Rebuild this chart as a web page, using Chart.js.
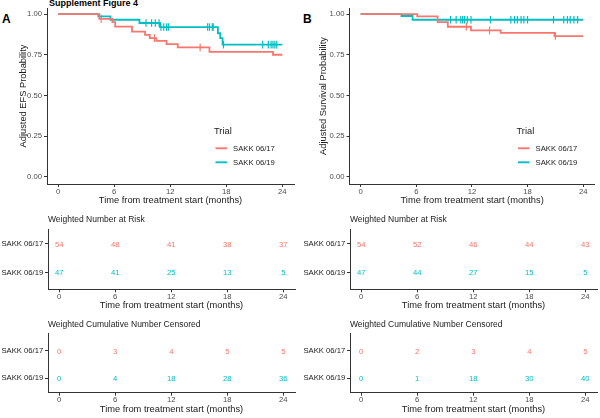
<!DOCTYPE html>
<html><head><meta charset="utf-8">
<script src="https://cdn.jsdelivr.net/npm/chart.js@4.4.1/dist/chart.umd.min.js"></script>
<style>
body{margin:0;background:#fff;width:600px;height:418px;overflow:hidden;position:relative;font-family:"Liberation Sans",Arial,sans-serif}
canvas{position:absolute}
.lab{position:absolute;font-weight:bold;color:#000;white-space:nowrap;line-height:1}
</style></head><body>
<div class="lab" style="left:2px;top:13px;font-size:12px">A</div>
<div class="lab" style="left:303px;top:13px;font-size:12px">B</div>
<div class="lab" style="left:49px;top:-1px;font-size:9px">Supplement Figure 4</div>
<canvas id="mainA" width="300" height="208" style="left:0;top:0"></canvas>
<canvas id="mainB" width="300" height="208" style="left:300px;top:0"></canvas>
<canvas id="riskA" width="300" height="103" style="left:0;top:210px"></canvas>
<canvas id="riskB" width="300" height="103" style="left:300px;top:210px"></canvas>
<canvas id="censA" width="300" height="103" style="left:0;top:314px"></canvas>
<canvas id="censB" width="300" height="103" style="left:300px;top:314px"></canvas>
<script>
// ---------- data ----------
const months = [0, 6, 12, 18, 24];
const trials = ["SAKK 06/17", "SAKK 06/19"];
const probTicks = [0, 0.25, 0.5, 0.75, 1];

// Panel A: adjusted EFS
const efs17Time = [0, 4.4, 5.8, 6.1, 7.9, 9.3, 9.8, 10.5, 11.6, 12.8, 16.2, 23.0, 24];
const efs17Surv = [1, 0.970, 0.950, 0.923, 0.892, 0.872, 0.852, 0.835, 0.815, 0.795, 0.768, 0.750, 0.750];
const efs17Cens = [4.6, 10.3, 15.2];
const efs19Time = [0, 4.3, 5.6, 8.7, 10.9, 17.1, 17.35, 17.6, 24];
const efs19Surv = [1, 0.985, 0.965, 0.945, 0.920, 0.882, 0.852, 0.812, 0.812];
const efs19Cens = [9.4, 10.0, 10.4, 10.8, 11.0, 11.3, 11.6, 11.8, 16.0, 16.2, 16.5, 16.6, 17.7, 21.9, 22.5, 22.8, 23.0, 23.2, 23.4];

// Panel B: adjusted survival
const os17Time = [0, 6.1, 8.3, 9.4, 11.9, 15.1, 20.9, 24];
const os17Surv = [1, 0.986, 0.950, 0.922, 0.900, 0.884, 0.865, 0.865];
const os17Cens = [11.4, 13.9, 21.0];
const os19Time = [0, 4.4, 5.6, 24];
const os19Surv = [1, 0.988, 0.965, 0.965];
const os19Cens = [9.7, 10.3, 10.8, 11.0, 11.2, 11.5, 11.9, 14.0, 16.2, 16.6, 16.9, 17.3, 17.6, 18.0, 20.8, 21.9, 22.3, 22.6, 23.0, 23.4];

// Tables
const riskEfs17 = [54, 48, 41, 38, 37];
const riskEfs19 = [47, 41, 25, 13, 5];
const censEfs17 = [0, 3, 4, 5, 5];
const censEfs19 = [0, 4, 18, 28, 36];
const riskOs17 = [54, 52, 46, 44, 43];
const riskOs19 = [47, 44, 27, 15, 5];
const censOs17 = [0, 2, 3, 4, 5];
const censOs19 = [0, 1, 18, 30, 40];

// ---------- style ----------
const RED = '#F8766D', TEAL = '#00BFC4';
const AXIS = '#333333', TICKTXT = '#4D4D4D', TITLETXT = '#1a1a1a';
const FAM = '"Liberation Sans", Arial, sans-serif';
const XMIN = -1.2, XMAX = 25.25;
Chart.defaults.font.family = FAM;

function toXY(t, s) { return t.map((v, i) => ({x: v, y: s[i]})); }
function stepAt(t, s, x) { let v = s[0]; for (let i = 0; i < t.length; i++) if (t[i] <= x) v = s[i]; return v; }
function censPts(t, s, c) { return c.map(x => ({x: x, y: stepAt(t, s, x)})); }

const kmLegend = {
  id: 'kmLegend',
  afterDraw(chart, args, o) {
    const ctx = chart.ctx, a = chart.chartArea;
    const x0 = a.left + o.dx, y0 = a.top + o.dy;
    ctx.save();
    ctx.fillStyle = TITLETXT; ctx.textBaseline = 'middle'; ctx.textAlign = 'left';
    ctx.font = '9.3px ' + FAM;
    ctx.fillText('Trial', x0 - 1.5, y0);
    ctx.font = '7.7px ' + FAM;
    o.items.forEach((it, i) => {
      const y = y0 + 16.6 + i * 14;
      ctx.strokeStyle = it.color; ctx.lineWidth = 1.9;
      ctx.beginPath(); ctx.moveTo(x0, y); ctx.lineTo(x0 + 11.5, y); ctx.stroke();
      ctx.fillStyle = TITLETXT;
      ctx.fillText(it.label, x0 + 17.5, y + 0.5);
    });
    ctx.restore();
  }
};

const tableText = {
  id: 'tableText',
  afterDatasetsDraw(chart) {
    const ctx = chart.ctx;
    chart.data.datasets.forEach((ds, i) => {
      const meta = chart.getDatasetMeta(i);
      ctx.save();
      ctx.fillStyle = ds.textColor; ctx.font = '7.7px ' + FAM;
      ctx.textAlign = 'center'; ctx.textBaseline = 'middle';
      meta.data.forEach((pt, j) => ctx.fillText(String(ds.data[j].v), pt.x, pt.y + 0.5));
      ctx.restore();
    });
  }
};

function xScale(h) {
  return {
    type: 'linear', min: XMIN, max: XMAX,
    afterBuildTicks: s => { s.ticks = months.map(v => ({value: v})); },
    afterFit: s => { s.height = h; },
    grid: {drawOnChartArea: false, drawTicks: true, tickLength: 3, color: AXIS, lineWidth: 1},
    border: {display: true, color: AXIS, width: 1},
    ticks: {font: {size: 7.7}, color: TICKTXT, padding: 0, maxRotation: 0, autoSkip: false},
    title: {display: true, text: 'Time from treatment start (months)', color: TITLETXT, font: {size: 9.3}, padding: {top: 0, bottom: 1.9}}
  };
}

function kmChart(id, left, t17, s17, c17, t19, s19, c19, yTitle) {
  const lineDs = (lab, t, s, col) => ({label: lab, data: toXY(t, s), borderColor: col, borderWidth: 1.8, stepped: 'before', pointRadius: 0, fill: false});
  const censDs = (t, s, c, col) => ({label: 'cens', data: censPts(t, s, c), showLine: false, pointStyle: 'line', rotation: 90, pointRadius: 3.8, pointBorderColor: col, pointBorderWidth: 1.2, borderColor: col, backgroundColor: col});
  return new Chart(document.getElementById(id), {
    type: 'line',
    data: {datasets: [
      lineDs(trials[0], t17, s17, RED), lineDs(trials[1], t19, s19, TEAL),
      censDs(t17, s17, c17, RED), censDs(t19, s19, c19, TEAL)
    ]},
    options: {
      responsive: false, animation: false, events: [],
      layout: {padding: {left: 0, right: 300 - left - 247, top: 8, bottom: 0}},
      plugins: {legend: {display: false}, tooltip: {enabled: false},
        kmLegend: {dx: 168.5, dy: 123.7, items: [{label: trials[0], color: RED}, {label: trials[1], color: TEAL}]}},
      scales: {
        x: xScale(24),
        y: {
          type: 'linear', min: -0.043, max: 1.037,
          afterBuildTicks: s => { s.ticks = probTicks.map(v => ({value: v})); },
          afterFit: s => { s.width = left; },
          grid: {drawOnChartArea: false, drawTicks: true, tickLength: 3, color: AXIS, lineWidth: 1},
          border: {display: true, color: AXIS, width: 1},
          ticks: {font: {size: 7.7}, color: TICKTXT, padding: 2, callback: v => Number(v).toFixed(2)},
          title: {display: true, text: yTitle, color: TITLETXT, font: {size: 9.3}, padding: {top: 17.4, bottom: 0}}
        }
      }
    },
    plugins: [kmLegend]
  });
}

function tableChart(id, left, title, v17, v19, ymin, ymax, tpad, xh) {
  const ds = (vals, row, col) => ({data: months.map((m, j) => ({x: m, y: row, v: vals[j]})), showLine: false, pointRadius: 0, textColor: col, borderColor: col});
  return new Chart(document.getElementById(id), {
    type: 'line',
    data: {datasets: [ds(v17, 2, RED), ds(v19, 1, TEAL)]},
    options: {
      responsive: false, animation: false, events: [],
      layout: {padding: {left: 0, right: 300 - left - 247, top: 0, bottom: 0}},
      plugins: {legend: {display: false}, tooltip: {enabled: false},
        title: {display: true, text: title, align: 'start', fullSize: false, color: '#222', font: {size: 8.5, weight: 'normal'}, padding: tpad}},
      scales: {
        x: xScale(xh),
        y: {
          type: 'linear', min: ymin, max: ymax,
          afterBuildTicks: s => { s.ticks = [{value: 2}, {value: 1}]; },
          afterFit: s => { s.width = left; },
          grid: {drawOnChartArea: false, drawTicks: true, tickLength: 3, color: AXIS, lineWidth: 1},
          border: {display: true, color: AXIS, width: 1},
          ticks: {font: {size: 7.7}, color: '#1a1a1a', padding: 1.7, callback: v => (v === 2 ? trials[0] : trials[1])}
        }
      }
    },
    plugins: [tableText]
  });
}

kmChart('mainA', 47, efs17Time, efs17Surv, efs17Cens, efs19Time, efs19Surv, efs19Cens, 'Adjusted EFS Probability');
kmChart('mainB', 49.5, os17Time, os17Surv, os17Cens, os19Time, os19Surv, os19Cens, 'Adjusted Survival Probability');
tableChart('riskA', 48, 'Weighted Number at Risk', riskEfs17, riskEfs19, 0.42, 2.52, {top: 4.2, bottom: 4.6}, 23.7);
tableChart('riskB', 50, 'Weighted Number at Risk', riskOs17, riskOs19, 0.42, 2.52, {top: 4.2, bottom: 4.6}, 23.7);
tableChart('censA', 48, 'Weighted Cumulative Number Censored', censEfs17, censEfs19, 0.47, 2.66, {top: 5.2, bottom: 3.6}, 24.3);
tableChart('censB', 50, 'Weighted Cumulative Number Censored', censOs17, censOs19, 0.47, 2.66, {top: 5.2, bottom: 3.6}, 24.3);
</script>
</body></html>
